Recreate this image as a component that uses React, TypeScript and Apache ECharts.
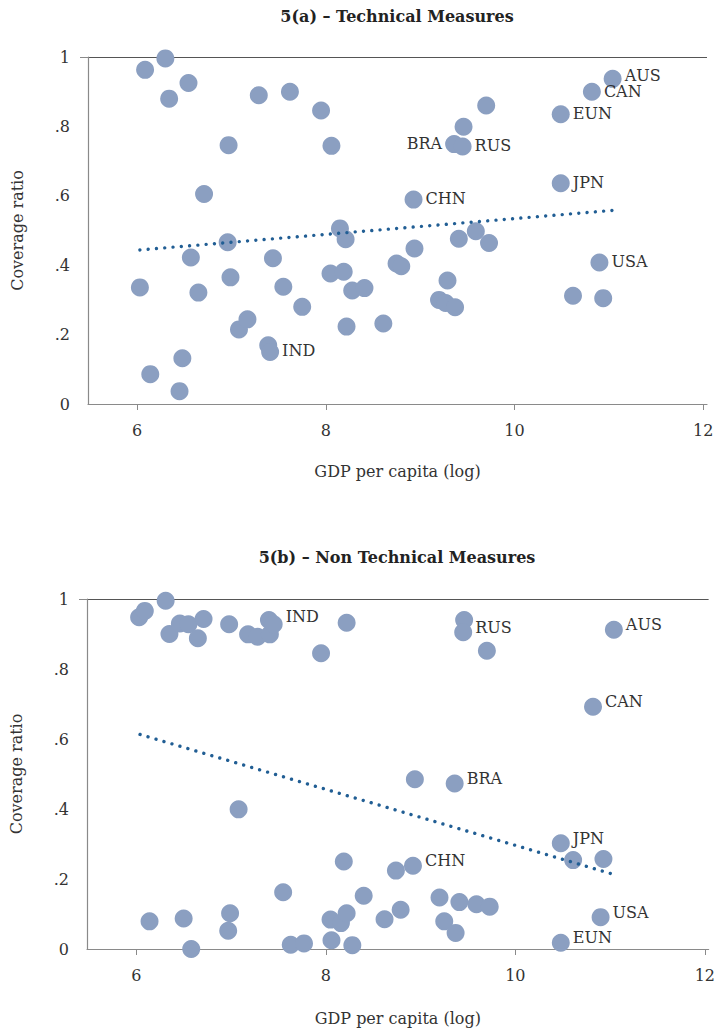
import React, { useEffect, useRef } from "react";
import * as echarts from "echarts";

// Panel 5(a) – Technical Measures
const techGdp = [
  6.085, 6.3, 6.34, 6.545, 7.29, 7.62, 7.95, 6.97, 8.06, 6.71, 6.96, 8.15, 8.21,
  11.04, 10.82, 9.7, 10.49, 9.46, 9.36, 9.45, 10.49, 8.93, 9.41, 9.59, 9.73, 8.94,
  6.03, 6.57, 6.65, 6.99, 7.08, 7.17, 7.44, 7.55, 7.75, 7.39, 7.41, 6.14, 6.48, 6.45,
  8.05, 8.19, 8.28, 8.22, 8.41, 8.75, 8.8, 8.61, 9.29, 9.2, 9.27, 9.37, 10.9, 10.62, 10.94,
];
const techCoverage = [
  0.963, 0.996, 0.88, 0.925, 0.89, 0.9, 0.846, 0.746, 0.744, 0.605, 0.466, 0.506, 0.475,
  0.937, 0.9, 0.86, 0.835, 0.799, 0.749, 0.742, 0.636, 0.589, 0.476, 0.498, 0.464, 0.448,
  0.336, 0.422, 0.321, 0.365, 0.215, 0.244, 0.42, 0.338, 0.28, 0.169, 0.15, 0.086, 0.132, 0.037,
  0.376, 0.381, 0.327, 0.223, 0.334, 0.405, 0.397, 0.232, 0.356, 0.3, 0.291, 0.279, 0.408, 0.312, 0.305,
];
const techCountry = [
  "", "", "", "", "", "", "", "", "", "", "", "", "",
  "AUS", "CAN", "", "EUN", "", "BRA", "RUS", "JPN", "CHN", "", "", "", "",
  "", "", "", "", "", "", "", "", "", "", "IND", "", "", "",
  "", "", "", "", "", "", "", "", "", "", "", "", "USA", "", "",
];
const techTrendGdp = [6.03, 11.04];
const techTrendCoverage = [0.444, 0.558];

// Panel 5(b) – Non Technical Measures
const nonTechGdp = [
  6.03, 6.09, 6.31, 6.35, 6.46, 6.55, 6.65, 6.71, 6.98, 7.18, 7.28, 7.41, 7.4, 7.45, 7.95, 8.22,
  9.46, 9.45, 9.7, 11.04, 10.82, 8.94, 9.36, 7.08, 8.19, 7.55,
  6.14, 6.5, 6.58, 6.99, 6.97, 7.63, 7.77, 8.06, 8.05, 8.16, 8.22, 8.28, 8.4,
  8.74, 8.92, 8.62, 8.79, 9.2, 9.41, 9.59, 9.73, 9.25, 9.37, 10.48, 10.61, 10.93, 10.9, 10.48,
];
const nonTechCoverage = [
  0.948, 0.966, 0.995, 0.9, 0.93, 0.928, 0.888, 0.943, 0.928, 0.899, 0.892, 0.899, 0.94, 0.928, 0.845, 0.932,
  0.94, 0.905, 0.852, 0.912, 0.692, 0.485, 0.473, 0.399, 0.25, 0.162,
  0.079, 0.087, 0.0, 0.102, 0.052, 0.012, 0.016, 0.025, 0.084, 0.074, 0.102, 0.011, 0.152,
  0.224, 0.238, 0.085, 0.112, 0.147, 0.134, 0.128, 0.121, 0.079, 0.046, 0.302, 0.254, 0.257, 0.091, 0.018,
];
const nonTechCountry = [
  "", "", "", "", "", "", "", "", "", "", "", "", "", "IND", "", "",
  "", "RUS", "", "AUS", "CAN", "", "BRA", "", "", "",
  "", "", "", "", "", "", "", "", "", "", "", "", "",
  "", "CHN", "", "", "", "", "", "", "", "", "JPN", "", "", "USA", "EUN",
];
const nonTechTrendGdp = [6.04, 11.04];
const nonTechTrendCoverage = [0.613, 0.213];

const xTickValues = [6, 8, 10, 12];
const yTickValues = [0, 0.2, 0.4, 0.6, 0.8, 1];

const titles = ["5(a) – Technical Measures", "5(b) – Non Technical Measures"];
const xAxisTitle = "GDP per capita (log)";
const yAxisTitle = "Coverage ratio";

// label placement (style, not data)
const leftLabelCountries: Record<string, boolean> = { "0-BRA": true };
const panelLabelLift = [-1, -5];
const labelLift: Record<string, number> = { "0-AUS": -3, "0-CAN": 0, "1-IND": -8 };

const FONT = "'DejaVu Serif', serif";
const POINT = "#8b9fc1";
const TREND = "#215e94";
const TEXT = "#333333";

function pointsOf(panel: number, xs: number[], ys: number[], names: string[]) {
  return xs.map((x, i) => {
    const name = names[i];
    const item: any = { value: [x, ys[i]] };
    if (name) {
      const key = panel + "-" + name;
      const left = leftLabelCountries[key];
      const lift = key in labelLift ? labelLift[key] : panelLabelLift[panel];
      item.name = name;
      item.label = {
        show: true,
        formatter: name,
        position: left ? "left" : "right",
        distance: 3,
        offset: [0, lift],
        color: TEXT,
        fontFamily: FONT,
        fontSize: 16,
      };
    }
    return item;
  });
}

function yFmt(v: number) {
  if (v === 0) return "0";
  if (Math.abs(v - 1) < 1e-9) return "1";
  return "." + Math.round(v * 10);
}

export default function App() {
  const ref = useRef<HTMLDivElement>(null);
  useEffect(() => {
    if (!ref.current) return;
    const chart = echarts.init(ref.current, null, { renderer: "svg" });
    const grids = [
      { left: 88, right: 11, top: 57, height: 347 },
      { left: 85, right: 7, top: 599, height: 350 },
    ];
    const xAxes = grids.map((_, i) => ({
      type: "value",
      gridIndex: i,
      min: 5.48,
      max: 12.04,
      name: xAxisTitle,
      nameLocation: "middle",
      nameGap: i === 0 ? 59 : 61,
      nameTextStyle: { fontFamily: FONT, fontSize: 16, color: TEXT },
      axisLine: { show: true, lineStyle: { color: "#8a8a8a", width: 1.2 } },
      axisTick: { show: true, length: 6, customValues: xTickValues, lineStyle: { color: "#8a8a8a" } },
      axisLabel: {
        customValues: xTickValues,
        margin: 18,
        fontFamily: FONT,
        fontSize: 16,
        color: TEXT,
      },
      splitLine: { show: false },
    }));
    const yAxes = grids.map((_, i) => ({
      type: "value",
      gridIndex: i,
      min: 0,
      max: 1,
      interval: 0.2,
      name: yAxisTitle,
      nameLocation: "middle",
      nameGap: 63,
      nameTextStyle: { fontFamily: FONT, fontSize: 16, color: TEXT },
      axisLine: { show: true, lineStyle: { color: "#8a8a8a", width: 1.2 } },
      axisTick: { show: true, length: 8, customValues: [1], lineStyle: { color: "#8a8a8a" } },
      axisLabel: {
        customValues: yTickValues,
        formatter: yFmt,
        margin: 18,
        fontFamily: FONT,
        fontSize: 16,
        color: TEXT,
      },
      splitLine: { show: true, lineStyle: { color: "#555555", width: 1 } },
    }));
    const scatter = (i: number, data: any[]) => ({
      type: "scatter",
      xAxisIndex: i,
      yAxisIndex: i,
      symbol: "circle",
      symbolSize: 18,
      itemStyle: { color: POINT, opacity: 1 },
      data,
      z: 2,
    });
    const trend = (i: number, xs: number[], ys: number[]) => ({
      type: "line",
      xAxisIndex: i,
      yAxisIndex: i,
      symbol: "none",
      silent: true,
      data: xs.map((x, k) => [x, ys[k]]),
      lineStyle: { color: TREND, width: 3.4, type: [0.01, 8.3], cap: "round" },
      z: 3,
    });
    const titleText = (text: string, y: number) => ({
      type: "text",
      x: 397,
      y,
      style: {
        text,
        textAlign: "center",
        textVerticalAlign: "middle",
        font: "bold 16px " + FONT,
        fill: "#222",
      },
    });
    chart.setOption({
      animation: false,
      backgroundColor: "#ffffff",
      grid: grids,
      xAxis: xAxes,
      yAxis: yAxes,
      graphic: [titleText(titles[0], 16), titleText(titles[1], 557)],
      series: [
        scatter(0, pointsOf(0, techGdp, techCoverage, techCountry)),
        trend(0, techTrendGdp, techTrendCoverage),
        scatter(1, pointsOf(1, nonTechGdp, nonTechCoverage, nonTechCountry)),
        trend(1, nonTechTrendGdp, nonTechTrendCoverage),
      ],
    });
    return () => chart.dispose();
  }, []);
  return (
    <div
      ref={ref}
      style={{ position: "absolute", left: 0, top: 0, width: 718, height: 1031, background: "#fff" }}
    />
  );
}
